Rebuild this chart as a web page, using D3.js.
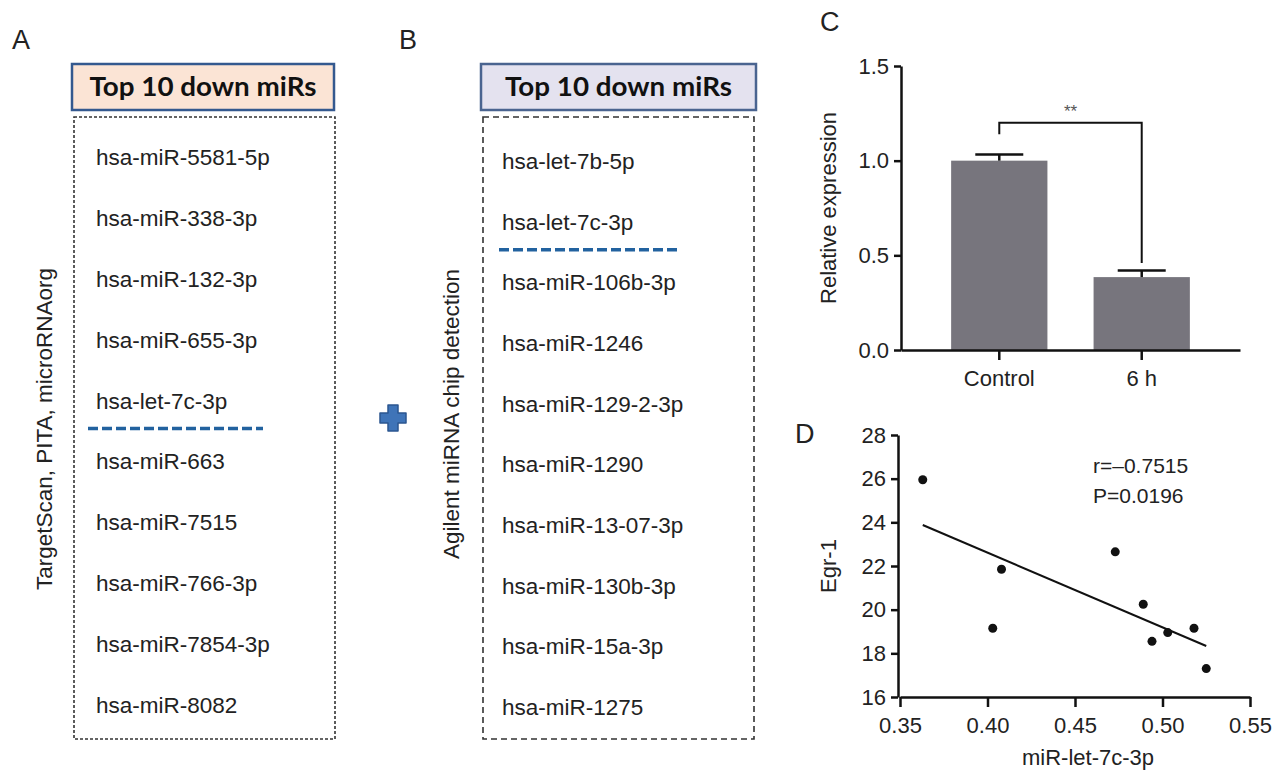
<!DOCTYPE html>
<html>
<head>
<meta charset="utf-8">
<script src="https://cdn.jsdelivr.net/npm/d3@7"></script>
<style>
  body { margin: 0; background: #fff; }
  svg { display: block; }
  text { font-family: "Liberation Sans", Arial, Helvetica, sans-serif; fill: #222; }
  .axis path, .axis line { stroke: #111; stroke-width: 2.5; }
  .axis text { font-size: 22px; fill: #222; }
</style>
</head>
<body>
<svg id="chart" width="1277" height="773"></svg>
<script>
// ---- data ----
const headerTitle = "Top 10 down miRs";
const listA = ["hsa-miR-5581-5p", "hsa-miR-338-3p", "hsa-miR-132-3p", "hsa-miR-655-3p", "hsa-let-7c-3p",
               "hsa-miR-663", "hsa-miR-7515", "hsa-miR-766-3p", "hsa-miR-7854-3p", "hsa-miR-8082"];
const listB = ["hsa-let-7b-5p", "hsa-let-7c-3p", "hsa-miR-106b-3p", "hsa-miR-1246", "hsa-miR-129-2-3p",
               "hsa-miR-1290", "hsa-miR-13-07-3p", "hsa-miR-130b-3p", "hsa-miR-15a-3p", "hsa-miR-1275"];
const highlight = "hsa-let-7c-3p";
const labelA = "TargetScan, PITA, microRNAorg";
const labelB = "Agilent miRNA chip detection";

const barCategories = ["Control", "6 h"];
const barValues = [1.0, 0.385];
const barErrors = [0.033, 0.035];
const barTicks = [0.0, 0.5, 1.0, 1.5];

const scatterX = [0.363, 0.408, 0.403, 0.473, 0.489, 0.494, 0.503, 0.518, 0.525];
const scatterY = [25.95, 21.85, 19.15, 22.65, 20.25, 18.55, 18.95, 19.15, 17.3];
const scatterXTicks = [0.35, 0.40, 0.45, 0.50, 0.55];
const scatterYTicks = [16, 18, 20, 22, 24, 26, 28];
const statsText = ["r=\u20130.7515", "P=0.0196"];

const svg = d3.select('#chart');

// panel letters
svg.selectAll('.panel-letter')
    .data([["A", 12, 49], ["B", 399, 49], ["C", 820, 31], ["D", 795, 443]])
    .join('text')
    .attr('class', 'panel-letter')
    .attr('x', d => d[1]).attr('y', d => d[2])
    .style('font-size', '27px')
    .text(d => d[0]);

// ---- panels A & B: lists ----
function drawList(cfg) {
    const g = svg.append('g');
    g.append('rect')
        .attr('x', cfg.hx).attr('y', 64).attr('width', cfg.hw).attr('height', 46)
        .attr('fill', cfg.fill).attr('stroke', cfg.stroke).attr('stroke-width', 2.5);
    g.append('text')
        .attr('x', cfg.hx + cfg.hw / 2).attr('y', 96)
        .attr('text-anchor', 'middle')
        .attr('textLength', 227).attr('lengthAdjust', 'spacingAndGlyphs')
        .style('font-family', 'Lato, "Open Sans", sans-serif')
        .style('font-weight', 'bold').style('font-size', '26px').style('fill', '#111')
        .text(headerTitle);
    g.append('rect')
        .attr('x', cfg.bx).attr('y', 117).attr('width', cfg.bw).attr('height', 622)
        .attr('fill', 'none').attr('stroke', '#333').attr('stroke-width', 1.6)
        .attr('stroke-dasharray', cfg.dash);

    const y = d3.scalePoint().domain(cfg.items).range(cfg.yr);
    g.selectAll('.item')
        .data(cfg.items)
        .join('text')
        .attr('class', 'item')
        .attr('x', cfg.tx).attr('y', d => y(d))
        .style('font-size', '22.5px')
        .text(d => d);

    g.append('line')
        .attr('x1', cfg.lx1).attr('x2', cfg.lx2)
        .attr('y1', y(highlight) + 20).attr('y2', y(highlight) + 20)
        .attr('stroke', '#22629f').attr('stroke-width', 3.5)
        .attr('stroke-dasharray', '10,4');

    g.append('text')
        .attr('transform', `translate(${cfg.vx},${cfg.vy}) rotate(-90)`)
        .attr('text-anchor', 'middle')
        .style('font-size', '22.5px')
        .text(cfg.label);
}

drawList({ items: listA, hx: 72, hw: 262, fill: '#fbe4d5', stroke: '#34598f',
           bx: 74, bw: 261, dash: '3,2', tx: 96, yr: [165, 713], lx1: 88, lx2: 263,
           label: labelA, vx: 52, vy: 429 });
drawList({ items: listB, hx: 481, hw: 275, fill: '#e4e2ef', stroke: '#4a6490',
           bx: 483, bw: 271, dash: '6,4', tx: 502, yr: [169, 715], lx1: 499, lx2: 677,
           label: labelB, vx: 459, vy: 414 });

// plus sign
svg.append('path')
    .attr('transform', 'translate(393,418)')
    .attr('d', 'M-5,-13 H5 V-5 H13 V5 H5 V13 H-5 V5 H-13 V-5 H-5 Z')
    .attr('fill', '#3f74b8').attr('stroke', '#2b5590').attr('stroke-width', 1.5)
    .attr('stroke-linejoin', 'round');

// ---- panel C: bar chart ----
const cy = d3.scaleLinear().domain([0, 1.5]).range([350, 66]);
const cx = d3.scaleBand().domain(barCategories).range([901, 1240])
    .paddingInner(0.324).paddingOuter(0.352);

const gc = svg.append('g');
gc.selectAll('.bar')
    .data(barCategories)
    .join('rect')
    .attr('class', 'bar')
    .attr('x', d => cx(d)).attr('width', cx.bandwidth())
    .attr('y', (d, i) => cy(barValues[i]))
    .attr('height', (d, i) => cy(0) - cy(barValues[i]))
    .attr('fill', '#77757d');

// error bars
barCategories.forEach((c, i) => {
    const mx = cx(c) + cx.bandwidth() / 2;
    gc.append('line')
        .attr('x1', mx).attr('x2', mx)
        .attr('y1', cy(barValues[i])).attr('y2', cy(barValues[i] + barErrors[i]))
        .attr('stroke', '#111').attr('stroke-width', 2.5);
    gc.append('line')
        .attr('x1', mx - 24).attr('x2', mx + 24)
        .attr('y1', cy(barValues[i] + barErrors[i])).attr('y2', cy(barValues[i] + barErrors[i]))
        .attr('stroke', '#111').attr('stroke-width', 2.5);
});

// significance bracket
const c0 = cx(barCategories[0]) + cx.bandwidth() / 2;
const c1 = cx(barCategories[1]) + cx.bandwidth() / 2;
gc.append('path')
    .attr('d', `M${c0},${cy(1.14)} V${cy(1.2)} H${c1} V${cy(0.46)}`)
    .attr('fill', 'none').attr('stroke', '#111').attr('stroke-width', 2);
gc.append('text')
    .attr('x', (c0 + c1) / 2).attr('y', cy(1.2) - 6)
    .attr('text-anchor', 'middle')
    .style('font-size', '17px').style('fill', '#555')
    .text('**');

gc.append('g')
    .attr('class', 'axis')
    .attr('transform', 'translate(901,0)')
    .call(d3.axisLeft(cy).tickValues(barTicks).tickFormat(d3.format('.1f'))
        .tickSize(7).tickSizeOuter(0).tickPadding(5));
gc.append('g')
    .attr('class', 'axis')
    .attr('transform', 'translate(0,350)')
    .call(d3.axisBottom(cx).tickSize(10).tickSizeOuter(0).tickPadding(10));

gc.append('text')
    .attr('transform', 'translate(836,208) rotate(-90)')
    .attr('text-anchor', 'middle')
    .style('font-size', '22px')
    .text('Relative expression');

// ---- panel D: scatter ----
const dx = d3.scaleLinear().domain([0.35, 0.55]).range([900, 1250]);
const dy = d3.scaleLinear().domain([16, 28]).range([697, 435]);
const gd = svg.append('g');

gd.append('g')
    .attr('class', 'axis')
    .attr('transform', 'translate(898,0)')
    .call(d3.axisLeft(dy).tickValues(scatterYTicks).tickFormat(d3.format('d'))
        .tickSize(7).tickSizeOuter(0).tickPadding(5));
gd.append('g')
    .attr('class', 'axis')
    .attr('transform', 'translate(0,697)')
    .call(d3.axisBottom(dx).tickValues(scatterXTicks).tickFormat(d3.format('.2f'))
        .tickSize(10).tickSizeOuter(0).tickPadding(10));

// least-squares fit across the data's x range
const mX = d3.mean(scatterX), mY = d3.mean(scatterY);
const slope = d3.sum(scatterX, (v, i) => (v - mX) * (scatterY[i] - mY)) /
              d3.sum(scatterX, v => (v - mX) * (v - mX));
const fit = v => mY + slope * (v - mX);
const [xMin, xMax] = d3.extent(scatterX);
gd.append('line')
    .attr('x1', dx(xMin)).attr('y1', dy(fit(xMin)))
    .attr('x2', dx(xMax)).attr('y2', dy(fit(xMax)))
    .attr('stroke', '#111').attr('stroke-width', 2);

gd.selectAll('.point')
    .data(scatterX)
    .join('circle')
    .attr('class', 'point')
    .attr('cx', d => dx(d))
    .attr('cy', (d, i) => dy(scatterY[i]))
    .attr('r', 4.5)
    .attr('fill', '#111');

gd.selectAll('.stat')
    .data(statsText)
    .join('text')
    .attr('class', 'stat')
    .attr('x', 1093).attr('y', (d, i) => 473 + i * 30)
    .style('font-size', '21px')
    .text(d => d);

gd.append('text')
    .attr('transform', 'translate(836,566) rotate(-90)')
    .attr('text-anchor', 'middle')
    .style('font-size', '22px')
    .text('Egr-1');
gd.append('text')
    .attr('x', 1088).attr('y', 765)
    .attr('text-anchor', 'middle')
    .style('font-size', '22px')
    .text('miR-let-7c-3p');
</script>
</body>
</html>
